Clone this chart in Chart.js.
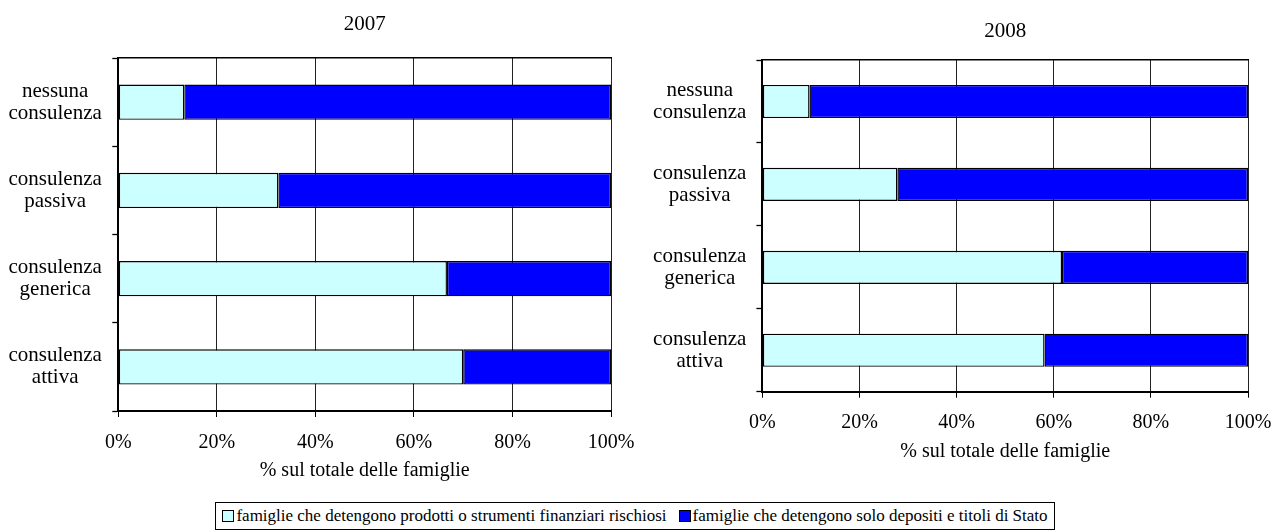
<!DOCTYPE html>
<html>
<head>
<meta charset="utf-8">
<script src="https://cdn.jsdelivr.net/npm/chart.js@4.4.1/dist/chart.umd.min.js"></script>
<style>
  html, body { margin: 0; padding: 0; background: #fff; }
  body { width: 1274px; height: 532px; position: relative; overflow: hidden; font-family: 'Liberation Serif', 'Times New Roman', serif; }
  #c1 { position: absolute; left: 0; top: 0; }
  #c2 { position: absolute; left: 640px; top: 0; }
  #legend { position: absolute; left: 215px; top: 502px; width: 838px; height: 26px; border: 1px solid #000;
            display: flex; align-items: center; justify-content: center; font-size: 17px; color: #000; white-space: nowrap; }
  .item { display: flex; align-items: center; }
  .item + .item { margin-left: 12px; }
  .mk { display: inline-block; width: 10px; height: 10px; border: 1.5px solid #000; margin-right: 2px; }
</style>
</head>
<body>
<canvas id="c1" width="640" height="490"></canvas>
<canvas id="c2" width="634" height="470"></canvas>
<div id="legend"></div>
<script>
// ---- data ----
const categories = [
  ['nessuna', 'consulenza'],
  ['consulenza', 'passiva'],
  ['consulenza', 'generica'],
  ['consulenza', 'attiva']
];
const seriesNames = [
  'famiglie che detengono prodotti o strumenti finanziari rischiosi',
  'famiglie che detengono solo depositi e titoli di Stato'
];
const years = ['2007', '2008'];
const risky2007 = [13.4, 32.5, 66.7, 70.0];
const safe2007  = [86.6, 67.5, 33.3, 30.0];
const risky2008 = [9.7, 27.8, 61.7, 58.1];
const safe2008  = [90.3, 72.2, 38.3, 41.9];
const xTickValues = [0, 20, 40, 60, 80, 100];
const xTickLabels = ['0%', '20%', '40%', '60%', '80%', '100%'];
const axisTitle = '% sul totale delle famiglie';

const colors = ['#CCFFFF', '#0000FF'];
const FONT = "'Liberation Serif', 'Times New Roman', serif";

function makeChart(id, year, risky, safe, L) {
  return new Chart(document.getElementById(id), {
    type: 'bar',
    data: {
      labels: categories,
      datasets: [
        { label: seriesNames[0], data: risky, backgroundColor: colors[0], borderColor: '#000', borderWidth: 1.4, borderSkipped: false,
          barPercentage: 0.4, categoryPercentage: 1.0 },
        { label: seriesNames[1], data: safe, backgroundColor: colors[1], borderColor: '#000', borderWidth: 1.4, borderSkipped: false,
          barPercentage: 0.4, categoryPercentage: 1.0 }
      ]
    },
    options: {
      indexAxis: 'y',
      responsive: false,
      animation: false,
      devicePixelRatio: 1,
      layout: { padding: { left: 0, right: L.padRight, top: 0, bottom: L.padBottom } },
      plugins: { legend: { display: false }, title: { display: false }, tooltip: { enabled: false } },
      scales: {
        x: {
          type: 'linear', stacked: true, min: 0, max: 100, position: 'bottom',
          afterBuildTicks: (s) => { s.ticks = xTickValues.map(v => ({ value: v })); },
          afterFit: (s) => { s.height = L.xHeight; s.paddingLeft = 0; s.paddingRight = 0; },
          ticks: { callback: (v) => xTickLabels[xTickValues.indexOf(v)], color: '#000', padding: L.tickPad,
                   font: { family: FONT, size: 20 }, maxRotation: 0 },
          grid: { color: '#222', lineWidth: 1, tickLength: 6, tickColor: '#000', drawOnChartArea: true },
          border: { display: true, color: '#000', width: 2 },
          title: { display: true, text: axisTitle, color: '#000', font: { family: FONT, size: 20 }, padding: { top: 4, bottom: 0 } }
        },
        x2: {
          type: 'linear', min: 0, max: 100, position: 'top', display: true,
          ticks: { display: false },
          grid: { display: false, drawTicks: false, drawOnChartArea: false },
          border: { display: true, color: '#000', width: 1.5 },
          title: { display: true, text: year, color: '#000', font: { family: FONT, size: 21 }, padding: { top: L.titleTop, bottom: L.titleBottom } }
        },
        y: {
          type: 'category', stacked: true, offset: true,
          afterFit: (s) => { s.width = L.yWidth; s.paddingTop = 0; s.paddingBottom = 0; },
          ticks: { color: '#000', crossAlign: 'center', padding: L.yPad, font: { family: FONT, size: 21, lineHeight: 1.05 } },
          grid: { offset: true, drawOnChartArea: false, tickLength: 6, tickColor: '#000', tickWidth: 1.3 },
          border: { display: true, color: '#000', width: 2 }
        }
      }
    }
  });
}

makeChart('c1', years[0], risky2007, safe2007,
  { padRight: 29, padBottom: 7, xHeight: 72, tickPad: 14, titleTop: 11.7, titleBottom: 21.1, yWidth: 118.3, yPad: 10.5 });
makeChart('c2', years[1], risky2008, safe2008,
  { padRight: 26, padBottom: 6, xHeight: 72.3, tickPad: 13.3, titleTop: 18.4, titleBottom: 16.4, yWidth: 122.4, yPad: 10 });

// legend
const lg = document.getElementById('legend');
seriesNames.forEach((n, i) => {
  const it = document.createElement('span');
  it.className = 'item';
  const mk = document.createElement('span');
  mk.className = 'mk';
  mk.style.background = colors[i];
  const tx = document.createElement('span');
  tx.textContent = n;
  it.appendChild(mk); it.appendChild(tx);
  lg.appendChild(it);
});
</script>
</body>
</html>
